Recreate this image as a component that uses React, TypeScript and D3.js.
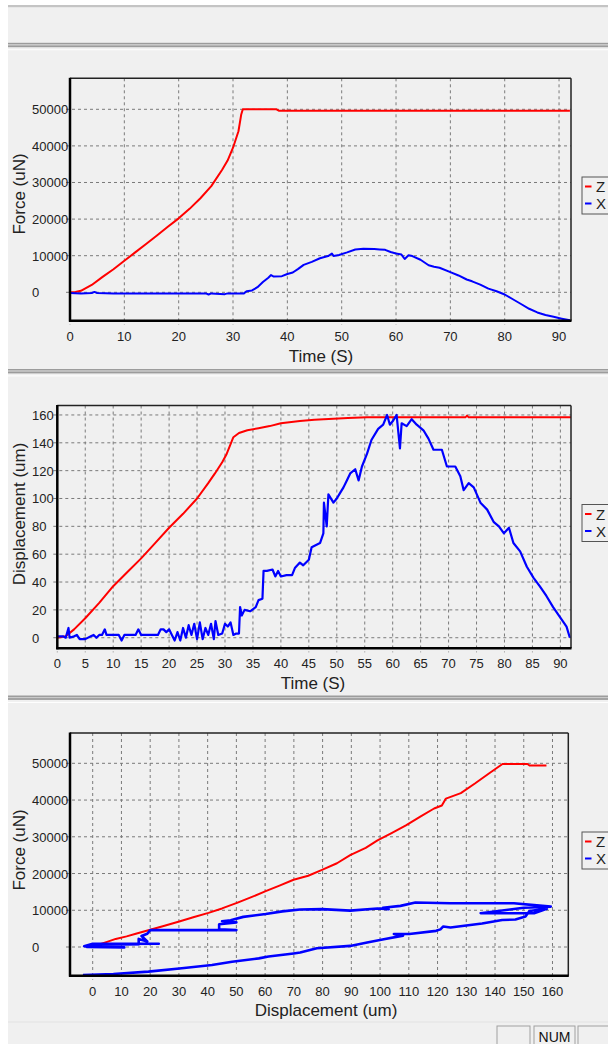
import React from "react";
import * as d3 from "d3";

// ---------- DATA ----------
// Chart 1: Force (uN) vs Time (S)
const forceTimeZ: [number, number][] = [
  [0, 0], [1, 100], [2, 400], [4, 2000], [6, 4200], [8, 6300], [10, 8600], [12, 10900], [14, 13200],
  [16, 15500], [18, 17900], [20, 20200], [22, 22800], [24, 25700], [26, 29000], [28, 33500],
  [29, 36000], [30, 39500], [31, 44000], [31.5, 48500], [31.8, 50000], [38, 50000], [38.5, 49600], [92, 49600],
];
const forceTimeX: [number, number][] = [
  [0, -200], [2, -300], [4, -200], [4.5, 100], [5, -200], [8, -300], [15, -300], [20, -300], [25, -300],
  [25.5, -600], [26, -300], [28.5, -500], [29, -300], [32, -300], [32.5, 300], [33.5, 500], [34.5, 1400],
  [35.5, 2800], [36.5, 4000], [37, 4700], [37.5, 4300], [39, 4400], [40, 5000], [41, 5400], [42, 6400],
  [43, 7500], [44.5, 8300], [46, 9300], [47.5, 9900], [48.2, 10600], [48.5, 9900], [49.5, 10200],
  [51, 10900], [52.5, 11700], [54, 11900], [56, 11800], [57, 11700], [58, 11600], [59, 11000],
  [60, 10600], [61, 10300], [61.6, 9100], [62.3, 10100], [63, 9900], [64.5, 8900], [66, 7400],
  [67, 7000], [68, 6700], [70, 5500], [71.5, 4600], [73, 3500], [74, 3000], [75.5, 2100], [77, 1000],
  [78.5, 300], [80, -600], [81.5, -1900], [83, -3200], [84.5, -4500], [86, -5500], [87.5, -6200],
  [89, -6700], [90.5, -7200], [92, -7650],
];

// Chart 2: Displacement (um) vs Time (S)
const dispTimeZ: [number, number][] = [
  [0, 0], [1.5, 1], [3, 6], [5, 14], [7.5, 25], [10, 37], [12.5, 47], [15, 57], [17.5, 68], [20, 79],
  [22.5, 89], [25, 100], [27, 111], [28.2, 118], [29.5, 126], [30.3, 132], [31, 139], [31.5, 144],
  [32.5, 147], [34, 149], [36, 150.5], [38, 152], [40, 154], [43.4, 155.6], [46, 156.5], [49.4, 157.3],
  [52, 157.8], [55.4, 158.3], [73, 158.3], [73.3, 159.5], [73.6, 158.3], [92, 158.3],
];
const dispTimeX: [number, number][] = [
  [0, 1], [1, 1], [1.5, 0], [2, 7], [2.2, 0], [3, 1], [3.5, 2], [4, -1], [5, -1], [6, 1], [6.5, 2], [7, 0],
  [7.5, 2], [8, 2], [8.5, 6], [8.8, 2], [10, 2], [11, 2], [11.5, -2], [12, 2], [13, 2], [14, 2], [14.5, 6],
  [15, 2], [16, 2], [17, 2], [18, 2], [18.5, 6], [19, 6], [19.5, 4], [20, 6], [20.5, 2], [21, -2],
  [21.5, 4], [22, -2], [22.5, 7], [23, 0], [23.5, 9], [24, 2], [24.5, 10], [25, -1], [25.5, 11],
  [26, -1], [26.5, 7], [27, 2], [27.5, 10], [28, -1], [28.3, 12], [28.8, 2], [29.5, 3], [30, 10],
  [30.5, 8], [31, 11], [31.5, 2], [32, 3], [32.5, 3], [32.7, 22], [33, 16], [33.5, 20], [34.5, 19],
  [35.5, 22], [36, 27], [36.7, 28], [36.9, 48], [37.5, 48], [38.5, 49], [39, 44], [39.5, 48], [40, 44],
  [41, 45], [42, 45], [42.5, 50], [43.4, 54], [44, 52], [45, 56], [45.5, 65], [47, 68], [47.6, 75],
  [47.7, 97], [48.2, 80], [48.5, 103], [49.4, 97], [50, 100], [50.6, 104], [51.2, 108], [51.8, 113],
  [52.4, 118], [53.3, 121], [53.9, 113], [54.5, 123], [55.4, 132], [56.2, 142], [57.4, 150],
  [58.3, 153], [59, 160], [59.5, 153], [60.1, 156], [60.7, 160], [61.3, 136], [61.6, 154], [62.5, 152],
  [63.4, 157], [64.3, 153], [65.5, 149], [66.4, 143], [67.3, 135], [68.8, 135], [69.7, 123],
  [71.2, 123], [72.1, 116], [72.7, 106], [73.6, 111], [74.5, 108], [75.7, 97], [76.9, 92], [78.1, 83],
  [79, 80], [79.9, 75], [80.8, 79], [81.6, 68], [82.8, 62], [84, 51], [85.2, 43], [86.3, 37],
  [87.5, 30], [88.7, 22], [89.9, 15], [91.1, 8], [91.7, 0],
];

// Chart 3: Force (uN) vs Displacement (um)
const forceDispZ: [number, number][] = [
  [2, 600], [5, 1400], [8, 2200], [11.8, 2900], [15, 3600], [20, 4700], [25, 5800], [30.4, 7000],
  [35, 8100], [40.3, 9300], [45, 10500], [50.2, 12000], [55, 13500], [60.2, 15200], [65, 16700],
  [69.9, 18300], [75, 19400], [79.8, 21000], [85, 22800], [89.6, 25000], [95, 27000], [99.1, 29000],
  [104, 31000], [109, 33100], [114, 35500], [118.8, 37700], [121.5, 38500], [122.9, 40400],
  [128.1, 41900], [133, 44500], [138, 47300], [142.6, 49800], [151.3, 49800], [152, 49400], [157.9, 49400],
];
const forceDispX: [number, number][] = [
  [0, 0], [-3, 200], [0, 900], [23, 900], [3, 800], [0, 500], [11, -100], [-2, 0], [1, 600], [16, 700],
  [16, 2200], [19, 1500], [17, 3000], [19, 3600], [20, 4600], [50, 4600], [44, 4800], [44, 6200],
  [50, 6700], [45, 7000], [48, 7300], [52.4, 8200], [60.2, 9000], [66, 9700], [72.2, 10200],
  [79.8, 10300], [89.6, 9900], [99.1, 10500], [103, 10300], [101, 10700], [107.1, 11200],
  [112.3, 12100], [124.5, 11900], [146.6, 11900], [153.6, 11400], [159.4, 11000], [150, 10700],
  [135, 9200], [153.6, 9200], [158, 10400], [152, 9800], [150.6, 8300], [147.1, 7500], [142.5, 7350],
  [135.5, 6400], [124.5, 5300], [122, 5600], [121, 4800], [119.5, 4400], [110.2, 3550], [104.8, 3550],
  [108, 3100], [101.3, 2100], [95.5, 1200], [89.6, 300], [78, -350], [72.2, -1500], [69.9, -1750],
  [61.2, -2600], [57.8, -3100], [48.5, -4000], [41.5, -4900], [31, -5800], [19.4, -6700],
  [7.2, -7350], [-3.4, -7600],
];

const timeTicks10 = [0, 10, 20, 30, 40, 50, 60, 70, 80, 90];
const timeTicks5 = [0, 5, 10, 15, 20, 25, 30, 35, 40, 45, 50, 55, 60, 65, 70, 75, 80, 85, 90];
const forceTicks = [0, 10000, 20000, 30000, 40000, 50000];
const dispTicks = [0, 20, 40, 60, 80, 100, 120, 140, 160];
const dispTicks10 = [0, 10, 20, 30, 40, 50, 60, 70, 80, 90, 100, 110, 120, 130, 140, 150, 160];
const legendNames = ["Z", "X"];

const FONT = "'Liberation Sans', Arial, sans-serif";
const RED = "#ff0000";
const BLUE = "#0000ff";

type ChartProps = {
  left: number; top: number; right: number; bottom: number;
  xDomain: [number, number]; yDomain: [number, number];
  xTicks: number[]; yTicks: number[];
  z: [number, number][]; x: [number, number][];
  xTitle: string; yTitle: string;
  xTitleX: number; xTitleY: number; yTitleX: number; yTitleY: number;
  legendY: number; blueWidth: number;
};

function Chart(p: ChartProps) {
  const xs = d3.scaleLinear().domain(p.xDomain).range([p.left, p.right]);
  const ys = d3.scaleLinear().domain(p.yDomain).range([p.bottom, p.top]);
  const line = d3.line<[number, number]>().x((d) => xs(d[0])).y((d) => ys(d[1]));
  const clipId = `clip-${p.top}`;
  return (
    <g>
      <defs>
        <clipPath id={clipId}>
          <rect x={p.left} y={p.top} width={p.right - p.left} height={p.bottom - p.top} />
        </clipPath>
      </defs>
      {/* grid */}
      {p.xTicks.map((t) => (
        <line key={"gx" + t} x1={xs(t)} x2={xs(t)} y1={p.top} y2={p.bottom + 4}
          stroke="#7a7a7a" strokeWidth={1} strokeDasharray="3,3" />
      ))}
      {p.yTicks.map((t) => (
        <line key={"gy" + t} x1={p.left - 4} x2={p.right} y1={ys(t)} y2={ys(t)}
          stroke="#7a7a7a" strokeWidth={1} strokeDasharray="3,3" />
      ))}
      {/* series */}
      <g clipPath={`url(#${clipId})`}>
        <path d={line(p.z) || ""} fill="none" stroke={RED} strokeWidth={2} strokeLinejoin="round" />
        <path d={line(p.x) || ""} fill="none" stroke={BLUE} strokeWidth={p.blueWidth} strokeLinejoin="round" />
      </g>
      {/* frame */}
      <line x1={p.left} x2={p.right} y1={p.top} y2={p.top} stroke="#222" strokeWidth={1.5} />
      <line x1={p.right} x2={p.right} y1={p.top} y2={p.bottom} stroke="#222" strokeWidth={1.5} />
      <line x1={p.left} x2={p.left} y1={p.top - 0.5} y2={p.bottom + 1} stroke="#000" strokeWidth={2.5} />
      <line x1={p.left - 1} x2={p.right + 0.5} y1={p.bottom} y2={p.bottom} stroke="#000" strokeWidth={2.5} />
      {/* tick labels */}
      {p.xTicks.map((t) => (
        <text key={"tx" + t} x={xs(t)} y={p.bottom + 20} fontSize={13} fontFamily={FONT}
          textAnchor="middle" fill="#222">{t}</text>
      ))}
      {p.yTicks.map((t) => (
        <text key={"ty" + t} x={32} y={ys(t) + 5} fontSize={13} fontFamily={FONT}
          textAnchor="start" fill="#222">{t}</text>
      ))}
      {/* titles */}
      <text x={p.xTitleX} y={p.xTitleY} fontSize={17} fontFamily={FONT} textAnchor="middle" fill="#222">{p.xTitle}</text>
      <text transform={`translate(${p.yTitleX},${p.yTitleY}) rotate(-90)`} fontSize={17} fontFamily={FONT}
        textAnchor="middle" fill="#222">{p.yTitle}</text>
      {/* legend */}
      <rect x={582} y={p.legendY} width={40} height={37} fill="#f0f0f0" stroke="#555" strokeWidth={1} />
      {legendNames.map((n, i) => (
        <g key={n}>
          <line x1={585} x2={591.5} y1={p.legendY + 9.5 + i * 17} y2={p.legendY + 9.5 + i * 17}
            stroke={i === 0 ? RED : BLUE} strokeWidth={2} />
          <text x={596} y={p.legendY + 15 + i * 17} fontSize={15} fontFamily={FONT} fill="#222">{n}</text>
        </g>
      ))}
    </g>
  );
}

function Separator({ y }: { y: number }) {
  return (
    <g>
      <rect x={8} y={y} width={600} height={1.6} fill="#9c9c9c" />
      <rect x={8} y={y + 1.6} width={600} height={1} fill="#c6c6c6" />
      <rect x={8} y={y + 2.6} width={600} height={1.8} fill="#9c9c9c" />
      <rect x={8} y={y + 6.4} width={600} height={1} fill="#ffffff" />
    </g>
  );
}

function StatusBox({ x, w, label }: { x: number; w: number; label?: string }) {
  return (
    <g>
      <rect x={x} y={1026} width={w} height={24} fill="#f0f0f0" stroke="#a0a0a0" strokeWidth={1} />
      {label && (
        <text x={x + w / 2} y={1042} fontSize={14} fontFamily={FONT} textAnchor="middle" fill="#111">{label}</text>
      )}
    </g>
  );
}

export default function App() {
  return (
    <svg width={608} height={1044} style={{ position: "absolute", left: 0, top: 0, display: "block" }}>
      <rect x={0} y={0} width={608} height={1044} fill="#ffffff" />
      <rect x={8} y={5} width={600} height={1039} fill="#f0f0f0" />
      <rect x={8} y={5} width={600} height={2.2} fill="#c4c4c4" />
      <Separator y={42.8} />
      <Separator y={369} />
      <Separator y={695.5} />
      <rect x={8} y={1021.5} width={600} height={1} fill="#e2e2e2" />

      <Chart left={70} top={78.3} right={571} bottom={320.7}
        xDomain={[0, 92.2]} yDomain={[-7760, 58470]}
        xTicks={timeTicks10} yTicks={forceTicks}
        z={forceTimeZ} x={forceTimeX}
        xTitle="Time (S)" yTitle="Force (uN)"
        xTitleX={321} xTitleY={362} yTitleX={25} yTitleY={194}
        legendY={177} blueWidth={2} />
      <Chart left={57.3} top={405.5} right={571} bottom={648.3}
        xDomain={[0, 91.9]} yDomain={[-7.6, 166.8]}
        xTicks={timeTicks5} yTicks={dispTicks}
        z={dispTimeZ} x={dispTimeX}
        xTitle="Time (S)" yTitle="Displacement (um)"
        xTitleX={313} xTitleY={689} yTitleX={25} yTitleY={514}
        legendY={504.5} blueWidth={2.2} />
      <Chart left={70} top={733} right={568.3} bottom={975.7}
        xDomain={[-7.9, 165.5]} yDomain={[-7810, 58250]}
        xTicks={dispTicks10} yTicks={forceTicks}
        z={forceDispZ} x={forceDispX}
        xTitle="Displacement (um)" yTitle="Force (uN)"
        xTitleX={326} xTitleY={1016} yTitleX={25} yTitleY={850}
        legendY={832} blueWidth={2.6} />

      <StatusBox x={497} w={33} />
      <StatusBox x={534} w={41} label="NUM" />
      <StatusBox x={578} w={40} />
    </svg>
  );
}
